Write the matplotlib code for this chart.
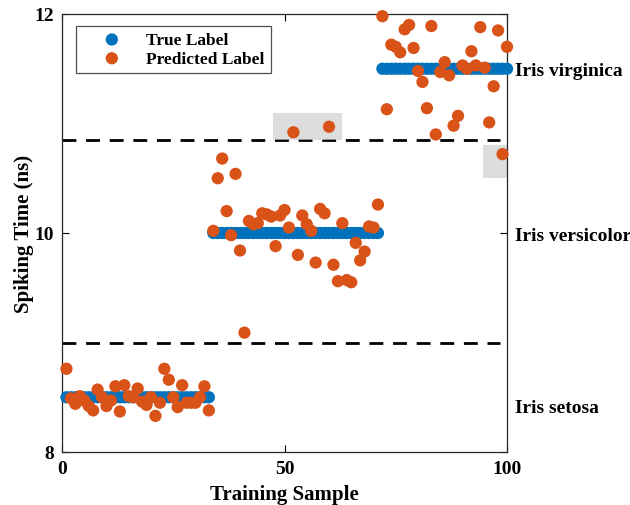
import numpy as np
import matplotlib
matplotlib.use("Agg")
import matplotlib.pyplot as plt
from matplotlib.patches import Rectangle

plt.rcParams['font.family'] = ['Liberation Serif', 'DejaVu Serif']
plt.rcParams['font.weight'] = 'bold'

# Data
samples = np.arange(1, 101)
true_label = [8.5] * 33 + [10.0] * 38 + [11.5] * 29
predicted = [
    # setosa 1..33
    8.76, 8.49, 8.44, 8.51, 8.47, 8.42, 8.38, 8.57, 8.50, 8.42,
    8.47, 8.60, 8.37, 8.61, 8.51, 8.50, 8.58, 8.46, 8.43, 8.50,
    8.33, 8.45, 8.76, 8.66, 8.50, 8.41, 8.61, 8.45, 8.45, 8.45,
    8.50, 8.60, 8.38,
    # versicolor 34..71
    10.02, 10.50, 10.68, 10.20, 9.98, 10.54, 9.84, 9.09, 10.11, 10.08,
    10.09, 10.18, 10.17, 10.15, 9.88, 10.16, 10.21, 10.05, 10.92, 9.80,
    10.16, 10.08, 10.02, 9.73, 10.22, 10.18, 10.97, 9.71, 9.56, 10.09,
    9.57, 9.55, 9.91, 9.75, 9.83, 10.06, 10.05, 10.26,
    # virginica 72..100
    11.98, 11.13, 11.72, 11.70, 11.65, 11.86, 11.90, 11.69, 11.48, 11.38,
    11.14, 11.89, 10.90, 11.47, 11.56, 11.44, 10.98, 11.07, 11.53, 11.50,
    11.66, 11.53, 11.88, 11.51, 11.01, 11.34, 11.85, 10.72, 11.70,
]
class_names = ["Iris virginica", "Iris versicolor", "Iris setosa"]
class_label_y = [11.48, 9.98, 8.41]
boundaries = [9.0, 10.85]
error_boxes = [(47.5, 10.85, 15.5, 0.25), (94.5, 10.5, 5.5, 0.3)]

blue = '#0072BD'
orange = '#D95319'

fig = plt.figure(figsize=(6.3, 5.06), dpi=100)
ax = fig.add_axes([62/630, 1-453/506, 445/630, 438/506])

ax.scatter(samples, true_label, s=78, color=blue, edgecolors='none',
           label='True Label', zorder=3, clip_on=False)

for b in boundaries:
    ax.plot([0, 98.5], [b, b], color='black', lw=2.0, ls=(0, (5, 3.5)), zorder=2)

for (x0, y0, w, h) in error_boxes:
    ax.add_patch(Rectangle((x0, y0), w, h, facecolor=(0.8, 0.8, 0.8),
                           alpha=0.65, edgecolor='none', zorder=2.5))

ax.scatter(samples, predicted, s=78, color=orange, edgecolors='none',
           label='Predicted Label', zorder=4, clip_on=False)

ax.set_xlim(0, 100)
ax.set_ylim(8, 12)
ax.set_xticks([0, 50, 100])
ax.set_yticks([8, 10, 12])
ax.tick_params(direction='in', length=5, top=True, right=True,
               labelsize=14, width=0.8, pad=6)
for lab in ax.get_xticklabels() + ax.get_yticklabels():
    lab.set_fontweight('bold')
for sp in ax.spines.values():
    sp.set_linewidth(0.9)
    sp.set_color('#262626')

ax.set_xlabel('Training Sample', fontsize=15, fontweight='bold', labelpad=5)
ax.set_ylabel('Spiking Time (ns)', fontsize=15, fontweight='bold', labelpad=0)

for name, yv in zip(class_names, class_label_y):
    ax.text(101.8, yv, name, fontsize=14, fontweight='bold', va='center',
            ha='left', clip_on=False)

leg = ax.legend(loc='upper left', bbox_to_anchor=(0.031, 0.973), fontsize=12.5,
                frameon=True, fancybox=False, edgecolor='#262626',
                handletextpad=0.25, borderpad=0.35, labelspacing=0.15,
                handlelength=3.45, markerscale=1.0, borderaxespad=0)
leg.get_frame().set_linewidth(0.9)
for t in leg.get_texts():
    t.set_fontweight('bold')

fig.savefig('out.png', dpi=100)
